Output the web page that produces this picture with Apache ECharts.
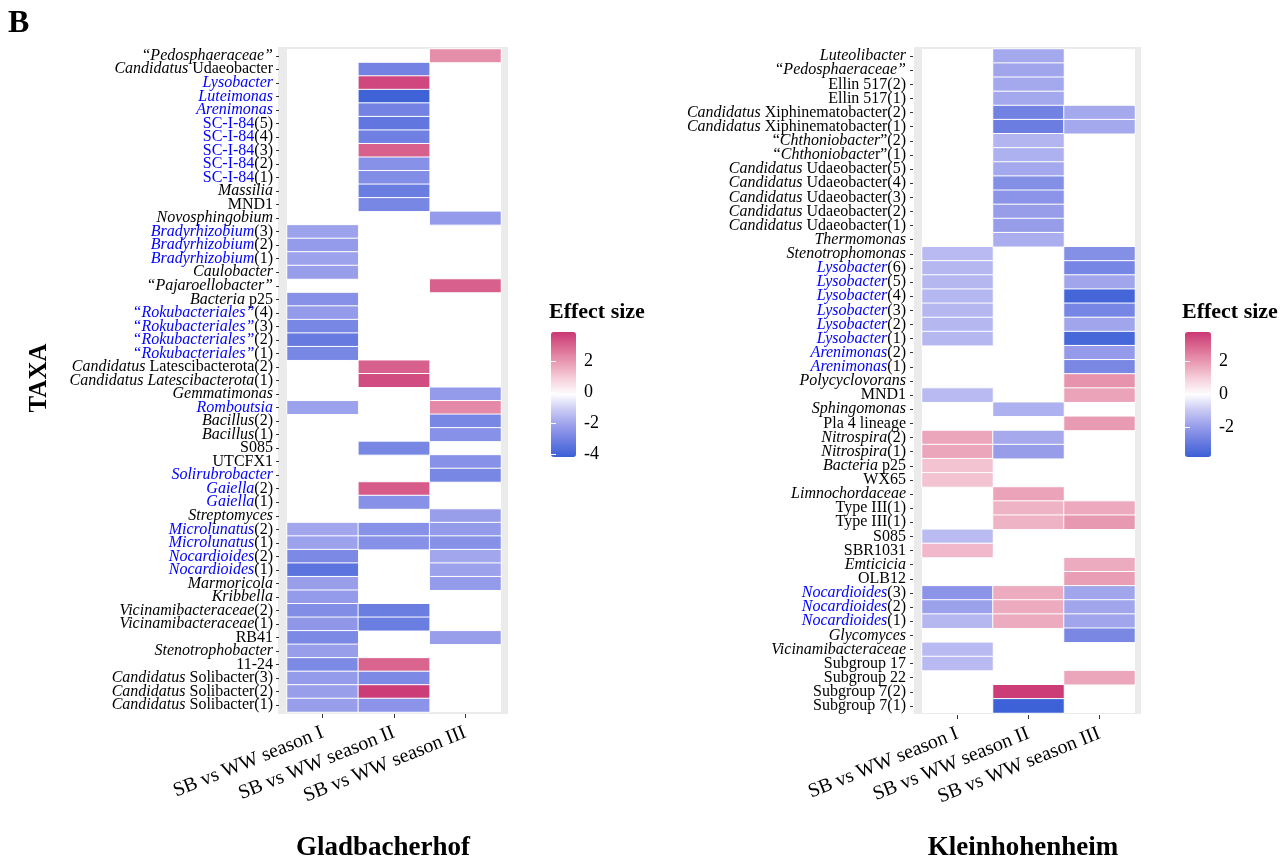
<!DOCTYPE html>
<html>
<head>
<meta charset="utf-8">
<script src="https://cdn.jsdelivr.net/npm/echarts@6/dist/echarts.min.js"></script>
<style>
  html, body { margin: 0; padding: 0; background: #fff; }
  #chart { width: 1281px; height: 862px; }
</style>
</head>
<body>
<div id="chart"></div>
<script>
var comparisons = ['SB vs WW season I', 'SB vs WW season II', 'SB vs WW season III'];

// Gladbacherhof, top to bottom.  {i|} italic, {b|} blue, {bi|} blue italic
var gladTaxa = [
  '{i|“Pedosphaeraceae”}', '{i|Candidatus} Udaeobacter', '{bi|Lysobacter}', '{bi|Luteimonas}',
  '{bi|Arenimonas}', '{b|SC-I-84}(5)', '{b|SC-I-84}(4)', '{b|SC-I-84}(3)', '{b|SC-I-84}(2)',
  '{b|SC-I-84}(1)', '{i|Massilia}', 'MND1', '{i|Novosphingobium}', '{bi|Bradyrhizobium}(3)',
  '{bi|Bradyrhizobium}(2)', '{bi|Bradyrhizobium}(1)', '{i|Caulobacter}', '{i|“Pajaroellobacter”}',
  '{i|Bacteria} p25', '{bi|“Rokubacteriales”}(4)', '{bi|“Rokubacteriales”}(3)',
  '{bi|“Rokubacteriales”}(2)', '{bi|“Rokubacteriales”}(1)', '{i|Candidatus} Latescibacterota(2)',
  '{i|Candidatus Latescibacterota}(1)', '{i|Gemmatimonas}', '{bi|Romboutsia}', '{i|Bacillus}(2)',
  '{i|Bacillus}(1)', 'S085', 'UTCFX1', '{bi|Solirubrobacter}', '{bi|Gaiella}(2)', '{bi|Gaiella}(1)',
  '{i|Streptomyces}', '{bi|Microlunatus}(2)', '{bi|Microlunatus}(1)', '{bi|Nocardioides}(2)',
  '{bi|Nocardioides}(1)', '{i|Marmoricola}', '{i|Kribbella}', '{i|Vicinamibacteraceae}(2)',
  '{i|Vicinamibacteraceae}(1)', 'RB41', '{i|Stenotrophobacter}', '11-24',
  '{i|Candidatus} Solibacter(3)', '{i|Candidatus} Solibacter(2)', '{i|Candidatus} Solibacter(1)'
];
var gladSeason1 = [
  null, null, null, null, null, null, null, null, null, null, null, null, null, -2.1,
  -2.3, -2.1, -2.2, null, -2.6, -2.3, -2.9, -3.3, -2.9, null, null, null, -2.1, null,
  null, null, null, null, null, null, null, -2.0, -2.1, -2.8, -3.5, -2.2, -2.3, -2.7,
  -2.4, -2.8, -2.2, -2.8, -2.3, -2.2, -2.2
];
var gladSeason2 = [
  null, -3.0, 3.6, -4.1, -3.0, -3.4, -3.1, 3.1, -2.6, -2.7, -3.2, -2.9, null, null,
  null, null, null, null, null, null, null, null, null, 3.1, 3.5, null, null, null,
  null, -2.9, null, null, 3.2, -2.6, null, -2.6, -2.6, null, null, null, null, -3.2,
  -3.2, null, null, 3.0, -2.8, 3.8, -2.5
];
var gladSeason3 = [
  2.2, null, null, null, null, null, null, null, null, null, null, null, -2.3, null,
  null, null, null, 3.1, null, null, null, null, null, null, null, -2.3, 2.3, -2.9,
  -2.6, null, -2.6, -2.9, null, null, -2.2, -2.3, -2.6, -2.0, -2.1, -2.3, null, null,
  null, -2.2, null, null, null, null, null
];

// Kleinhohenheim, top to bottom
var kleinTaxa = [
  '{i|Luteolibacter}', '{i|“Pedosphaeraceae”}', 'Ellin 517(2)', 'Ellin 517(1)',
  '{i|Candidatus} Xiphinematobacter(2)', '{i|Candidatus} Xiphinematobacter(1)',
  '“{i|Chthoniobacter}”(2)', '“{i|Chthoniobacte}r”(1)', '{i|Candidatus} Udaeobacter(5)',
  '{i|Candidatus} Udaeobacter(4)', '{i|Candidatus} Udaeobacter(3)', '{i|Candidatus} Udaeobacter(2)',
  '{i|Candidatus} Udaeobacter(1)', '{i|Thermomonas}', '{i|Stenotrophomonas}', '{bi|Lysobacter}(6)',
  '{bi|Lysobacter}(5)', '{bi|Lysobacter}(4)', '{bi|Lysobacter}(3)', '{bi|Lysobacter}(2)',
  '{bi|Lysobacter}(1)', '{bi|Arenimonas}(2)', '{bi|Arenimonas}(1)', '{i|Polycyclovorans}', 'MND1',
  '{i|Sphingomonas}', 'Pla 4 lineage', '{i|Nitrospira}(2)', '{i|Nitrospira}(1)', '{i|Bacteria} p25',
  'WX65', '{i|Limnochordaceae}', 'Type III(1)', 'Type III(1)', 'S085', 'SBR1031', '{i|Emticicia}',
  'OLB12', '{bi|Nocardioides}(3)', '{bi|Nocardioides}(2)', '{bi|Nocardioides}(1)', '{i|Glycomyces}',
  '{i|Vicinamibacteraceae}', 'Subgroup 17', 'Subgroup 22', 'Subgroup 7(2)', 'Subgroup 7(1)'
];
var kleinSeason1 = [
  null, null, null, null, null, null, null, null, null, null, null, null, null, null,
  -1.3, -1.35, -1.35, -1.35, -1.35, -1.35, -1.35, null, null, null, -1.3, null, null,
  1.75, 1.75, 1.2, 1.2, null, null, null, -1.25, 1.4, null, null, -2.2, -1.85, -1.35,
  null, -1.3, -1.3, null, null, null
];
var kleinSeason2 = [
  -1.7, -1.75, -1.7, -1.7, -2.7, -2.85, -1.4, -1.5, -1.7, -2.35, -2.2, -1.95, -1.95, -1.55,
  null, null, null, null, null, null, null, null, null, null, null, -1.5, null,
  -1.65, -1.95, null, null, 1.8, 1.5, 1.5, null, null, null, null, 1.65, 1.65, 1.65,
  null, null, null, null, 3.7, -3.75
];
var kleinSeason3 = [
  null, null, null, null, -1.7, -1.7, null, null, null, null, null, null, null, null,
  -2.35, -2.6, -1.75, -3.6, -2.6, -1.75, -3.55, -2.0, -2.55, 2.1, 1.8, null, 1.95,
  null, null, null, null, null, 1.7, 2.0, null, null, 1.65, 1.9, -1.75, -1.75, -1.75,
  -2.55, null, null, 1.75, null, null
];

var gladRange = [-4.2, 3.9];
var kleinRange = [-3.8, 3.8];
var gladLegendTicks = [-4, -2, 0, 2];
var kleinLegendTicks = [-2, 0, 2];

var palette = ['#3A60D6', '#6B7DE1', '#9A9FEB', '#C9C9F4', '#FDFDFF',
               '#F6D0DC', '#EA9EB6', '#DB6B92', '#CA3875'];
var serif = '"Liberation Serif", "Times New Roman", serif';

function cells(cols) {
  var out = [];
  cols.forEach(function (col, x) {
    col.forEach(function (v, y) {
      if (v !== null) out.push([x, y, v]);
    });
  });
  return out;
}

var rich = {
  i: { fontStyle: 'italic', color: '#000', fontFamily: serif, fontSize: 16 },
  b: { color: '#0000FF', fontFamily: serif, fontSize: 16 },
  bi: { fontStyle: 'italic', color: '#0000FF', fontFamily: serif, fontSize: 16 }
};

function taxaAxis(idx, names, offset, margin) {
  return {
    type: 'category', gridIndex: idx, data: names, inverse: true, offset: offset,
    axisLine: { show: false },
    axisTick: { show: true, alignWithLabel: true, length: 3, lineStyle: { color: '#333' } },
    axisLabel: { interval: 0, margin: margin, color: '#000', fontFamily: serif, fontSize: 16, rich: rich },
    splitLine: { show: false }
  };
}
function compAxis(idx) {
  return {
    type: 'category', gridIndex: idx, data: comparisons, offset: 2,
    axisLine: { show: false },
    axisTick: { show: true, alignWithLabel: true, length: 4, lineStyle: { color: '#333' } },
    axisLabel: { interval: 0, rotate: 22, margin: 18, color: '#000', fontFamily: serif, fontSize: 20 },
    splitLine: { show: false }
  };
}
function legendAxis(idx, range, ticks, pos, labels) {
  return {
    type: 'value', gridIndex: idx, min: range[0], max: range[1], position: pos, z: 10,
    axisLine: { show: false }, splitLine: { show: false },
    axisTick: { show: true, inside: true, length: 5, customValues: ticks, lineStyle: { color: '#fff' } },
    axisLabel: { show: labels, customValues: ticks, margin: 8, color: '#000', fontFamily: serif, fontSize: 18 }
  };
}

var chart = echarts.init(document.getElementById('chart'));
chart.setOption({
  backgroundColor: '#fff',
  animation: false,
  grid: [
    { left: 287, top: 49, width: 214, height: 663, show: true, backgroundColor: '#fff', borderWidth: 0 },
    { left: 922, top: 49, width: 213, height: 664, show: true, backgroundColor: '#fff', borderWidth: 0 },
    { left: 551, top: 332, width: 25, height: 125 },
    { left: 1185, top: 332, width: 26, height: 125 }
  ],
  xAxis: [
    compAxis(0), compAxis(1),
    { type: 'value', gridIndex: 2, show: false },
    { type: 'value', gridIndex: 3, show: false }
  ],
  yAxis: [
    taxaAxis(0, gladTaxa, 8, 6),
    taxaAxis(1, kleinTaxa, 9, 7),
    legendAxis(2, gladRange, gladLegendTicks, 'right', true),
    legendAxis(2, gladRange, gladLegendTicks, 'left', false),
    legendAxis(3, kleinRange, kleinLegendTicks, 'right', true),
    legendAxis(3, kleinRange, kleinLegendTicks, 'left', false)
  ],
  visualMap: [
    { type: 'continuous', seriesIndex: 0, min: gladRange[0], max: gladRange[1],
      left: 551, top: 332, itemWidth: 25, itemHeight: 125, padding: 0,
      calculable: false, hoverLink: false, inRange: { color: palette } },
    { type: 'continuous', seriesIndex: 1, min: kleinRange[0], max: kleinRange[1],
      left: 1185, top: 332, itemWidth: 26, itemHeight: 125, padding: 0,
      calculable: false, hoverLink: false, inRange: { color: palette } }
  ],
  series: [
    { type: 'heatmap', xAxisIndex: 0, yAxisIndex: 0,
      data: cells([gladSeason1, gladSeason2, gladSeason3]),
      itemStyle: { borderColor: '#fff', borderWidth: 1 }, emphasis: { disabled: true } },
    { type: 'heatmap', xAxisIndex: 1, yAxisIndex: 1,
      data: cells([kleinSeason1, kleinSeason2, kleinSeason3]),
      itemStyle: { borderColor: '#fff', borderWidth: 1 }, emphasis: { disabled: true } }
  ],
  graphic: [
    { type: 'rect', z: -10, shape: { x: 278, y: 47, width: 230, height: 667 }, style: { fill: '#EBEBEB' } },
    { type: 'rect', z: -10, shape: { x: 914, y: 47, width: 227, height: 667 }, style: { fill: '#EBEBEB' } },
    { type: 'text', x: 8, y: 8, style: { text: 'B', font: 'bold 32px ' + serif, fill: '#000' } },
    { type: 'text', x: 40, y: 378, rotation: Math.PI / 2,
      style: { text: 'TAXA', font: 'bold 25px ' + serif, fill: '#000', align: 'center', verticalAlign: 'middle' } },
    { type: 'text', x: 383, y: 848,
      style: { text: 'Gladbacherhof', font: 'bold 27px ' + serif, fill: '#000', align: 'center', verticalAlign: 'middle' } },
    { type: 'text', x: 1023, y: 848,
      style: { text: 'Kleinhohenheim', font: 'bold 27px ' + serif, fill: '#000', align: 'center', verticalAlign: 'middle' } },
    { type: 'text', x: 549, y: 312,
      style: { text: 'Effect size', font: 'bold 22px ' + serif, fill: '#000', verticalAlign: 'middle' } },
    { type: 'text', x: 1182, y: 312,
      style: { text: 'Effect size', font: 'bold 22px ' + serif, fill: '#000', verticalAlign: 'middle' } }
  ]
});
</script>
</body>
</html>
